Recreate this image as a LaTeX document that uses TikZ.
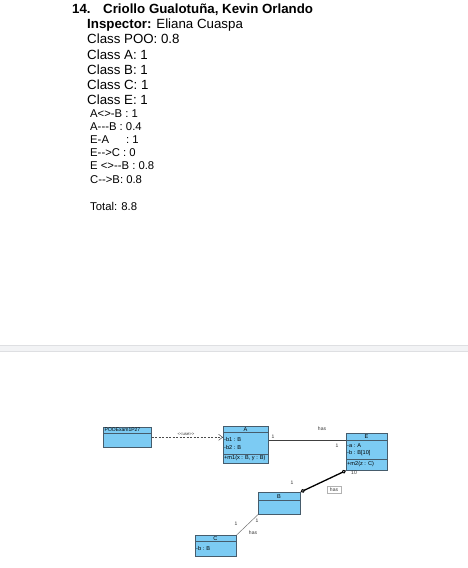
\documentclass[tikz,border=0pt]{standalone}
\usepackage{fontspec}
\setmainfont{Liberation Sans}
\usetikzlibrary{arrows.meta}
\definecolor{clsfill}{RGB}{124,203,243}
\definecolor{clsdraw}{RGB}{70,92,108}
\definecolor{sepfill}{RGB}{242,243,245}
\definecolor{sepline}{RGB}{222,223,226}
\begin{document}
\begin{tikzpicture}[x=1pt,y=-1pt,
  big/.style={anchor=base west, inner sep=0pt, font=\fontsize{13.3}{15}\selectfont},
  small/.style={anchor=base west, inner sep=0pt, font=\fontsize{11.3}{13}\selectfont},
  cls/.style={draw=clsdraw, fill=clsfill, line width=0.6pt, inner sep=0pt, anchor=north west},
  sep/.style={draw=clsdraw, line width=0.5pt},
  tiny/.style={inner sep=0pt, font=\fontsize{5.6}{6}\selectfont},
  tinyl/.style={tiny, anchor=west},
  lbl/.style={inner sep=0pt, font=\fontsize{5}{6}\selectfont, text=black!80},
  dia/.tip={Diamond[open,length=5pt,width=4pt,line width=1pt]},
]
\useasboundingbox (0,0) rectangle (468,568);
\fill[white] (0,0) rectangle (468,568);

% ---------- header text ----------
\node[big] (t1) at (72,13.5) {\textbf{14.}};
\node[big] (t2) at (103,13.5) {\textbf{Criollo Gualotuña, Kevin Orlando}};
\node[big] (t3) at (87,28.5) {\textbf{Inspector:} Eliana Cuaspa};
\node[big] (t4) at (87,43.5) {Class POO: 0.8};
\node[big] (t5) at (87,59) {Class A: 1};
\node[big] (t6) at (87,74.5) {Class B: 1};
\node[big] (t7) at (87,89.5) {Class C: 1};
\node[big] (t8) at (87,104.5) {Class E: 1};
\node[small] (s1) at (90,117) {A<>-B : 1};
\node[small] (s2) at (90,130) {A-{}-{}-B : 0.4};
\node[small] (s3) at (90,143) {E-A\hspace{14pt} : 1};
\node[small] (s4) at (90,156.5) {E-{}->C : 0};
\node[small] (s5) at (90,169.5) {E <>-{}-B : 0.8};
\node[small] (s6) at (90,183) {C-{}->B: 0.8};
\node[small] (s7) at (90,210) {Total: 8.8};

% ---------- separator ----------
\filldraw[fill=sepfill, draw=sepline, line width=0.7pt] (-1,345) rectangle (469,351.5);

% ---------- classes ----------
\node[cls, minimum width=48pt, minimum height=20pt] (poo) at (103,427) {};
\draw[sep] (103,433) -- (151,433);
\node[tinyl, font=\fontsize{5}{6}\selectfont] (pooT) at (104.5,430) {POOExam1P27};

\node[cls, minimum width=45pt, minimum height=37pt] (a) at (223,426) {};
\draw[sep] (223,432) -- (268,432);
\draw[sep] (223,454) -- (268,454);
\node[tiny] (aT) at (245.5,429.2) {A};
\node[tinyl] (a1) at (224,439.5) {-b1 : B};
\node[tinyl] (a2) at (224,447) {-b2 : B};
\node[tinyl] (a3) at (224,458.5) {+m1(x : B, y : B)};

\node[cls, minimum width=41pt, minimum height=37pt] (e) at (346,433) {};
\draw[sep] (346,440) -- (387,440);
\draw[sep] (346,459) -- (387,459);
\node[tiny] (eT) at (366.5,436.6) {E};
\node[tinyl] (e1) at (347,446) {-a : A};
\node[tinyl] (e2) at (347,453.3) {-b : B[10]};
\node[tinyl] (e3) at (347,464.5) {+m2(z : C)};

\node[cls, minimum width=42pt, minimum height=22pt] (b) at (258,492) {};
\draw[sep] (258,500) -- (300,500);
\node[tiny] (bT) at (279,496.2) {B};

\node[cls, minimum width=41pt, minimum height=21pt] (c) at (195,535) {};
\draw[sep] (195,541) -- (236,541);
\node[tiny] (cT) at (215.5,538.2) {C};
\node[tinyl] (c1) at (196,548) {-b : B};

% ---------- connectors ----------
\draw[black!70, dashed, dash pattern=on 2pt off 1.5pt, line width=0.5pt,
  -{Straight Barb[length=4pt,width=6pt]}] (poo.east) -- (poo.east -| a.west);
\node[lbl, font=\fontsize{4.3}{5}\selectfont] (use) at (186,434) {<{}<use>{}>};

\coordinate (aeY) at (0,440.5);
\draw[black!75, line width=0.5pt] (a.east |- aeY) -- (e.west |- aeY);
\node[lbl] (h1) at (322,429) {has};
\node[lbl] (m1) at (273,437) {1};
\node[lbl] (m2) at (337,445.5) {1};

\draw[black, line width=1.3pt, dia-dia] (e.south west) -- (b.north east);
\node[lbl] (m3) at (354,472.5) {10};
\node[lbl] (m4) at (292,483) {1};
\node[lbl, draw=black!30, fill=white, inner xsep=3pt, inner ysep=1.8pt] (h2) at (334,490) {has};

\draw[black!55, line width=0.5pt] (b.south west) -- (c.north east);
\node[lbl] (m5) at (257,521) {1};
\node[lbl] (m6) at (236,523.5) {1};
\node[lbl] (h3) at (253,532.5) {has};
\end{tikzpicture}
\end{document}
